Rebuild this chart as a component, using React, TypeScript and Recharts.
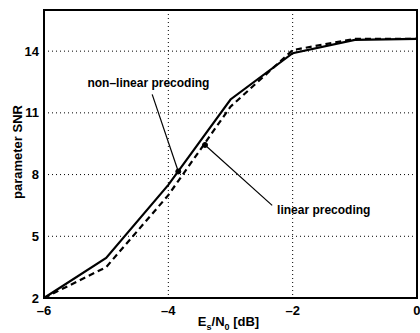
import { LineChart, Line, XAxis, YAxis, CartesianGrid, ReferenceArea, ReferenceLine, ReferenceDot } from 'recharts';

const esNo = [-6, -5, -4, -3, -2, -1, 0];
const nonLinear = [2, 3.95, 7.5, 11.65, 13.9, 14.55, 14.6];
const linear = [2, 3.5, 7.0, 11.3, 14.05, 14.6, 14.6];
const xTicks = [-6, -4, -2, 0];
const yTicks = [2, 5, 8, 11, 14];

const data = esNo.map((x, i) => ({ x, nl: nonLinear[i], lin: linear[i] }));

const FONT = '"Liberation Sans", Arial, sans-serif';

function XLabel({ viewBox }: any) {
  const cx = viewBox.x + viewBox.width / 2;
  return (
    <text x={cx - 2} y={326} textAnchor="middle" fontFamily={FONT} fontSize={13} fontWeight={600} fill="#000">
      E<tspan fontSize={9} dy={4}>s</tspan>
      <tspan dy={-4}>/N</tspan>
      <tspan fontSize={9} dy={4}>0</tspan>
      <tspan dy={-4}> [dB]</tspan>
    </text>
  );
}

function YLabel() {
  return (
    <text x={22} y={152} transform="rotate(-90 22 152)" textAnchor="middle" fontFamily={FONT} fontSize={13} fontWeight={600} fill="#000">
      parameter SNR
    </text>
  );
}

export default function App() {
  return (
    <div style={{ position: 'absolute', left: 0, top: 0, background: '#fff' }}>
      <LineChart width={420} height={333} data={data} margin={{ top: 10, right: 3, bottom: 0, left: 0 }}>
        <CartesianGrid stroke="#000" strokeDasharray="1 3" strokeWidth={1} horizontalValues={yTicks} verticalValues={xTicks} />
        <XAxis
          dataKey="x"
          type="number"
          domain={[-6, 0]}
          ticks={xTicks}
          height={35}
          axisLine={false}
          tickLine={false}
          tickSize={0}
          tickFormatter={(v: number) => (v < 0 ? `\u2013${Math.abs(v)}` : `${v}`)}
          tick={{ fill: '#000', fontSize: 13, fontWeight: 700, fontFamily: FONT }}
          tickMargin={8}
          label={<XLabel />}
        />
        <YAxis
          type="number"
          domain={[2, 16]}
          ticks={yTicks}
          width={44}
          axisLine={false}
          tickLine={false}
          tickSize={0}
          tick={{ fill: '#000', fontSize: 13, fontWeight: 700, fontFamily: FONT }}
          tickMargin={5}
          label={<YLabel />}
        />
        <ReferenceArea x1={-6} x2={0} y1={2} y2={16} fill="none" stroke="#000" strokeWidth={2} fillOpacity={0} strokeOpacity={1} />
        <Line dataKey="nl" stroke="#000" strokeWidth={2.2} dot={false} isAnimationActive={false} />
        <Line dataKey="lin" stroke="#000" strokeWidth={2.2} strokeDasharray="6 4" dot={false} isAnimationActive={false} />
        <ReferenceLine segment={[{ x: -4.26, y: 11.9 }, { x: -3.84, y: 8.15 }]} stroke="#000" strokeWidth={1.2} />
        <ReferenceLine segment={[{ x: -3.41, y: 9.44 }, { x: -2.33, y: 6.5 }]} stroke="#000" strokeWidth={1.2} />
        <ReferenceDot x={-3.84} y={8.15} r={2.5} fill="#000" stroke="#000" />
        <ReferenceDot x={-3.41} y={9.44} r={2.5} fill="#000" stroke="#000" />
        <ReferenceDot
          x={-4.32}
          y={12.45}
          r={0}
          label={{ value: 'non\u2013linear precoding', position: 'center', style: { fill: '#000', fontSize: 12, fontWeight: 600, fontFamily: FONT } }}
        />
        <ReferenceDot
          x={-1.5}
          y={6.28}
          r={0}
          label={{ value: 'linear precoding', position: 'center', style: { fill: '#000', fontSize: 12, fontWeight: 600, fontFamily: FONT } }}
        />
      </LineChart>
    </div>
  );
}
